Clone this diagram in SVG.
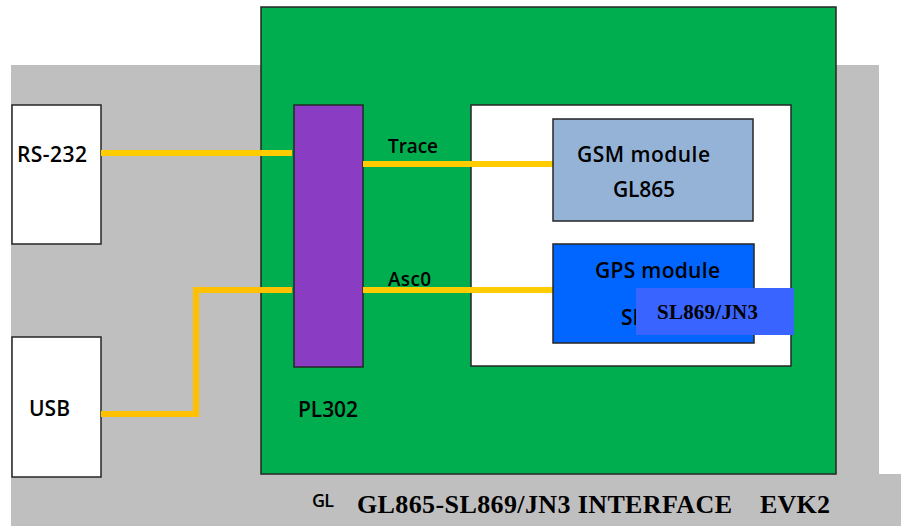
<svg xmlns="http://www.w3.org/2000/svg" width="901" height="526" viewBox="0 0 901 526">
<style>
.box{stroke:#262626;stroke-width:1.5}
.lbl{font-family:"Open Sans","Noto Sans",sans-serif;font-weight:600;fill:#000}
.tm{font-family:"Liberation Serif","Times New Roman",serif;font-weight:bold;fill:#000}
.wire{fill:none;stroke-width:6;stroke-linejoin:miter}
</style>
<rect width="901" height="526" fill="#ffffff"/>
<g id="background">
<rect x="11" y="65" width="868" height="461" fill="#bfbfbf"/>
<rect x="11" y="474" width="890" height="52" fill="#bfbfbf"/>
</g>
<g id="board">
<rect class="box" x="261" y="7" width="575" height="467" fill="#00ae4f"/>
</g>
<g id="rs232">
<rect class="box" x="12" y="105" width="89" height="139" fill="#ffffff"/>
<text class="lbl" x="17" y="162" font-size="21" textLength="70">RS-232</text>
</g>
<g id="usb">
<rect class="box" x="12" y="337" width="89" height="140" fill="#ffffff"/>
<text class="lbl" x="29" y="416" font-size="21" textLength="41">USB</text>
</g>
<g id="pl302">
<rect class="box" x="294" y="105" width="69" height="262" fill="#8a3dc2"/>
<text class="lbl" x="298" y="417" font-size="21" textLength="60">PL302</text>
</g>
<g id="modules">
<rect class="box" x="471" y="105" width="320" height="261" fill="#ffffff"/>
</g>
<g id="connectors">
<line class="wire" x1="101" y1="153" x2="292" y2="153" stroke="#ffcc00"/>
<path class="wire" d="M101 414 H196 V290 H292" stroke="#ffc000"/>
<line class="wire" x1="363" y1="164" x2="553" y2="164" stroke="#ffcc00"/>
<line class="wire" x1="363" y1="290" x2="553" y2="290" stroke="#ffcc00"/>
<text class="lbl" x="388" y="153" font-size="19" textLength="50">Trace</text>
<text class="lbl" x="388" y="286" font-size="19" textLength="43">Asc0</text>
</g>
<g id="gsm">
<rect class="box" x="553" y="119" width="200" height="102" fill="#95b3d7"/>
<text class="lbl" x="577" y="162" font-size="21" textLength="133">GSM module</text>
<text class="lbl" x="613" y="197" font-size="21" textLength="62">GL865</text>
</g>
<g id="gps">
<rect class="box" x="553" y="244" width="201" height="99" fill="#0066ff"/>
<text class="lbl" x="595" y="278" font-size="21" textLength="125">GPS module</text>
<text class="lbl" x="621" y="325" font-size="21">SL</text>
</g>
<g id="gps-label">
<rect x="636" y="288" width="158" height="47" fill="#3a64ff"/>
<text class="tm" x="657" y="319" font-size="21" textLength="101">SL869/JN3</text>
</g>
<g id="title">
<text class="lbl" x="312" y="507" font-size="18" textLength="22">GL</text>
<text class="tm" x="357" y="513" font-size="26" textLength="375">GL865-SL869/JN3 INTERFACE</text>
<text class="tm" x="760" y="513" font-size="26" textLength="70">EVK2</text>
</g>
</svg>
